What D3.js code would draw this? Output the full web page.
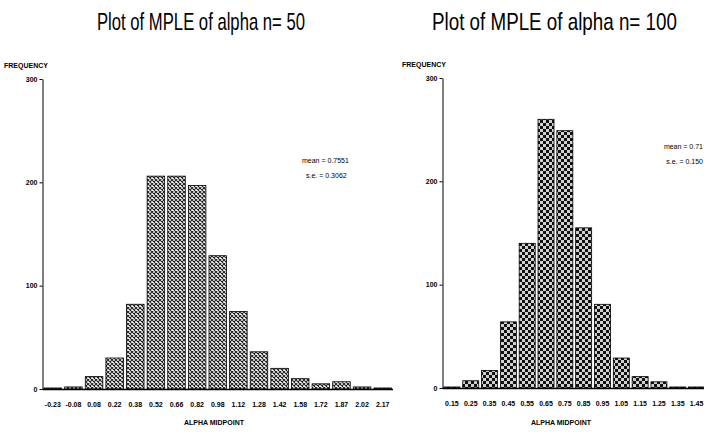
<!DOCTYPE html>
<html>
<head>
<meta charset="utf-8">
<script src="https://cdn.jsdelivr.net/npm/d3@7"></script>
<style>
    body { margin: 0; background: #fff; }
    svg { display: block; }
    .title { font-family: 'Liberation Sans', Arial, sans-serif; font-size: 24px; fill: #000; }
    .tick text, .small { font-family: 'Liberation Sans', Arial, sans-serif; font-size: 7px; font-weight: bold; fill: #000; }
    .stat { font-family: 'Liberation Sans', Arial, sans-serif; font-size: 7px; fill: #000; }
</style>
</head>
<body>
<div id="chart"></div>
<script>
// n = 50 histogram
const labels50 = ['-0.23', '-0.08', '0.08', '0.22', '0.38', '0.52', '0.66', '0.82', '0.98',
    '1.12', '1.28', '1.42', '1.58', '1.72', '1.87', '2.02', '2.17'];
const counts50 = [1, 2, 12, 30, 82, 206, 206, 197, 129, 75, 36, 20, 10, 5, 7, 2, 1];

// n = 100 histogram
const labels100 = ['0.15', '0.25', '0.35', '0.45', '0.55', '0.65', '0.75', '0.85', '0.95',
    '1.05', '1.15', '1.25', '1.35', '1.45'];
const counts100 = [1, 7, 17, 64, 140, 260, 249, 155, 81, 29, 11, 6, 1, 1];

const yTicks = [0, 100, 200, 300];

const W = 704, H = 436;

const svg = d3.select('#chart')
    .append('svg')
    .attr('width', W)
    .attr('height', H);

// Fill patterns
const defs = svg.append('defs');

const hatch = defs.append('pattern')
    .attr('id', 'hatch50')
    .attr('patternUnits', 'userSpaceOnUse')
    .attr('width', 4)
    .attr('height', 4);
hatch.append('rect').attr('width', 4).attr('height', 4).attr('fill', '#fff');
hatch.append('path')
    .attr('d', 'M0,0 L4,4 M4,0 L0,4')
    .attr('stroke', '#222')
    .attr('stroke-width', 1.1);

const checker = defs.append('pattern')
    .attr('id', 'hatch100')
    .attr('patternUnits', 'userSpaceOnUse')
    .attr('width', 6)
    .attr('height', 6);
checker.append('rect').attr('width', 6).attr('height', 6).attr('fill', '#d0d0d0');
checker.append('rect').attr('width', 3).attr('height', 3).attr('fill', '#111');
checker.append('rect').attr('x', 3).attr('y', 3).attr('width', 3).attr('height', 3).attr('fill', '#111');

function drawPanel(cfg) {
    const x = d3.scaleBand()
        .domain(cfg.labels)
        .range(cfg.xRange)
        .paddingInner(0.15)
        .paddingOuter(0.075);

    const y = d3.scaleLinear()
        .domain([0, 300])
        .range(cfg.yRange);

    const g = svg.append('g');

    // title, squeezed horizontally to the narrow look of the original
    const title = g.append('text')
        .attr('class', 'title')
        .attr('x', 0)
        .attr('y', 0)
        .text(cfg.title);
    const natural = title.node().getComputedTextLength();
    title.attr('transform', `translate(${cfg.titleX},30) scale(${cfg.titleLen / natural},1)`);

    // bars
    g.selectAll('.bar')
        .data(cfg.counts)
        .enter()
        .append('rect')
        .attr('class', 'bar')
        .attr('x', (d, i) => x(cfg.labels[i]))
        .attr('y', d => y(d))
        .attr('width', x.bandwidth())
        .attr('height', d => y(0) - y(d))
        .attr('fill', `url(#${cfg.pattern})`)
        .attr('stroke', '#000')
        .attr('stroke-width', 0.8);

    // y axis
    const yAxis = g.append('g')
        .attr('transform', `translate(${cfg.xRange[0]},0)`)
        .call(d3.axisLeft(y).tickValues(yTicks).tickSize(3).tickSizeOuter(0).tickPadding(2));
    yAxis.select('.domain').attr('stroke', '#000').attr('stroke-width', 1);
    yAxis.selectAll('.tick line').attr('stroke', '#000');

    // x axis baseline and labels
    const xAxis = g.append('g')
        .attr('transform', `translate(0,${y(0)})`)
        .call(d3.axisBottom(x).tickSize(0).tickPadding(13));
    xAxis.select('.domain').remove();
    g.append('line')
        .attr('x1', cfg.xRange[0])
        .attr('x2', Math.min(cfg.xRange[1], W))
        .attr('y1', y(0) + 0.5)
        .attr('y2', y(0) + 0.5)
        .attr('stroke', '#000')
        .attr('stroke-width', 1.5);

    g.append('text')
        .attr('class', 'small')
        .attr('x', cfg.freqX)
        .attr('y', y(300) - 11)
        .text('FREQUENCY');

    g.append('text')
        .attr('class', 'small')
        .attr('x', cfg.midX)
        .attr('y', 425)
        .attr('text-anchor', 'middle')
        .text('ALPHA MIDPOINT');

    // summary stats
    g.append('text')
        .attr('class', 'stat')
        .attr('x', cfg.statX)
        .attr('y', cfg.statY)
        .attr('text-anchor', cfg.statAnchor)
        .text(cfg.mean);
    g.append('text')
        .attr('class', 'stat')
        .attr('x', cfg.statX + cfg.seShift)
        .attr('y', cfg.statY + 15)
        .attr('text-anchor', cfg.statAnchor)
        .text(cfg.se);
}

drawPanel({
    labels: labels50,
    counts: counts50,
    pattern: 'hatch50',
    xRange: [42.5, 393],
    yRange: [389, 79],
    title: 'Plot of MPLE of alpha n= 50',
    titleX: 97,
    titleLen: 208,
    freqX: 4,
    midX: 214,
    statX: 302,
    statY: 163,
    statAnchor: 'start',
    seShift: 4,
    mean: 'mean = 0.7551',
    se: 's.e. = 0.3062'
});

drawPanel({
    labels: labels100,
    counts: counts100,
    pattern: 'hatch100',
    xRange: [442.5, 706],
    yRange: [388, 78],
    title: 'Plot of MPLE of alpha n= 100',
    titleX: 432,
    titleLen: 245,
    freqX: 402,
    midX: 561,
    statX: 703,
    statY: 149,
    statAnchor: 'end',
    seShift: 0,
    mean: 'mean = 0.71',
    se: 's.e. = 0.150'
});
</script>
</body>
</html>
